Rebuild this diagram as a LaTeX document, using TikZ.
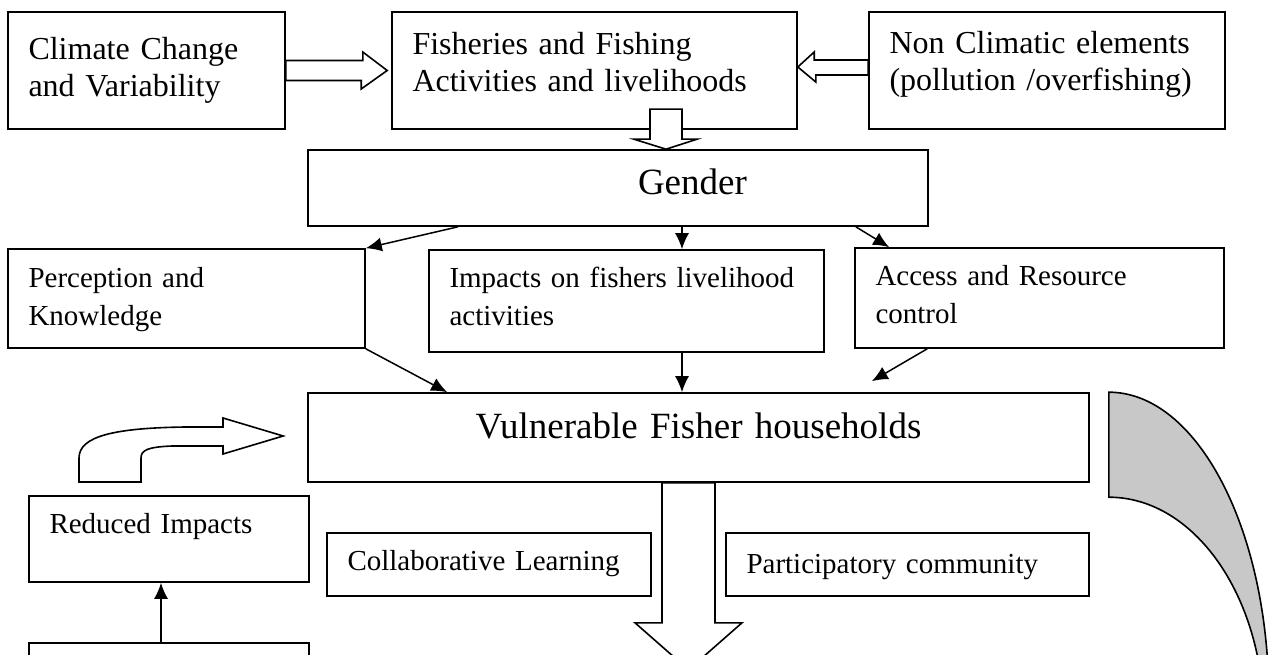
\documentclass[tikz,border=0pt]{standalone}
\usepackage{fontspec}
\setmainfont{Liberation Serif}
\usetikzlibrary{positioning,arrows.meta,calc}
\definecolor{arcgray}{RGB}{200,200,200}

\begin{document}
\begin{tikzpicture}[x=1pt, y=-1pt,
		box/.style 2 args = { draw, line width=1.6pt, minimum width=#1,
			minimum height=#2, text width=#1-41pt, inner xsep=20.5pt,
			inner ysep=0pt, align=left, text height=25pt },
		toptext/.style  = { font=\fontsize{32pt}{37pt}\selectfont },
		midtext/.style  = { font=\fontsize{29pt}{38pt}\selectfont },
		headtext/.style = { font=\fontsize{37pt}{44pt}\selectfont },
		line/.style     = { draw, line width=1.5pt, -{Latex[length=16pt,width=14pt]} },
		hollow/.style   = { draw, line width=1.6pt, fill=white },
		]
		\clip (0,0) rectangle (1268,655);
		\fill[white] (0,0) rectangle (1268,655);
		% top row
		\node [box={277pt}{117pt}, toptext, text depth=46pt] (clim) at (146.5,70.5) {Climate Change\\and Variability};
		\node [box={405pt}{117pt}, toptext, text depth=56pt] (fish) at (594.5,70.5) {Fisheries and Fishing\\Activities and livelihoods};
		\node [box={356pt}{117pt}, toptext, text depth=58pt] (nonc) at (1047,70.5) {Non Climatic elements\\(pollution /overfishing)};
		% gender and its three branches
		\node [box={620pt}{76pt}, headtext, inner xsep=0pt, text width=620pt, text depth=11pt] (gend) at (618,188) {\hspace*{330pt}Gender};
		\node [box={357pt}{99pt}, midtext, text depth=48pt] (perc) at (186.5,298.5) {Perception and\\Knowledge};
		\node [box={395pt}{102pt}, midtext, text depth=53pt] (impa) at (626.5,301) {Impacts on fishers livelihood\\activities};
		\node [box={369pt}{100pt}, midtext, text depth=51pt] (acce) at (1039.5,298) {Access and Resource\\control};
		% households and below
		\node [box={781pt}{89pt}, headtext, align=center, text depth=24pt] (vuln) at (698.5,437.5) {Vulnerable Fisher households};
		\node [box={280pt}{86pt}, midtext, text depth=37pt] (redu) at (169,539) {Reduced Impacts};
		\node [box={324pt}{63pt}, midtext, text depth=14pt] (coll) at (489,564.5) {Collaborative Learning};
		\node [box={363pt}{63pt}, midtext, text depth=8pt] (part) at (907.5,564.5) {Participatory community};
		\node [box={280pt}{80pt}] (lower) at (169,683) {};

		% thin arrows
		\path[line] ([xshift=-160pt]gend.south) -- (perc.north east);
		\path[line] ([xshift=55.5pt]impa.north |- gend.south) -- ([xshift=55.5pt]impa.north);
		\path[line] ([xshift=-73pt]gend.south east) -- ([xshift=35pt]acce.north west);
		\path[line] (perc.south east) -- ([xshift=140pt]vuln.north west);
		\path[line] ([xshift=55.5pt]impa.south) -- ([xshift=55.5pt]impa.south |- vuln.north);
		\path[line] ([xshift=73pt]acce.south west) -- ($(vuln.north east)+(-218,-11)$);
		\path[line] ([xshift=-8pt]lower.north) -- ([xshift=-8pt]redu.south);

		% block arrows
		\draw[hollow] ($(clim.east)+(0,-10)$) -- ++(77,0) -- ++(0,-8.5)
			-- ($(fish.west)+(-4,0)$) -- ++(-26,18.5) -- ++(0,-8.5)
			-- ($(clim.east)+(0,10)$) -- cycle;
		\draw[hollow] ($(nonc.west)+(0,-10.5)$) -- ++(-54,0) -- ++(0,-8)
			-- ($(fish.east)+(0,-3.5)$) -- ++(18,15) -- ++(0,-7)
			-- ($(nonc.west)+(0,4.5)$) -- cycle;
		\draw[hollow] ($(gend.north)+(48,0)$) -- ++(31,-10) -- ++(-15,0) -- ++(0,-30)
			-- ++(-32,0) -- ++(0,30) -- ++(-16,0) -- cycle;
		\draw[hollow] ($(vuln.south)+(-36.5,0)$) -- ++(0,140) -- ++(-27,0)
			-- ++(53.5,47) -- ++(53.5,-47) -- ++(-27,0) -- ++(0,-140) -- cycle;
		% bent arrow back to the households
		\draw[hollow] (79,482) -- (79,458) .. controls (79,436) and (115,428) .. (185,427)
			-- (223,427) -- (223,418) -- ($(vuln.west)+(-24,-1.5)$) -- (223,454) -- (223,446)
			-- (172,446) .. controls (148,447) and (141,450) .. (141,458) -- (141,482) -- cycle;
		% grey crescent on the right
		\draw[line width=1.6pt, fill=arcgray] ($(vuln.north east)+(19,0)$)
			arc[start angle=-90, end angle=0, x radius=160, y radius=307] -- ++(-5,20)
			arc[start angle=0, end angle=-90, x radius=155, y radius=222] -- cycle;
\end{tikzpicture}
\end{document}
